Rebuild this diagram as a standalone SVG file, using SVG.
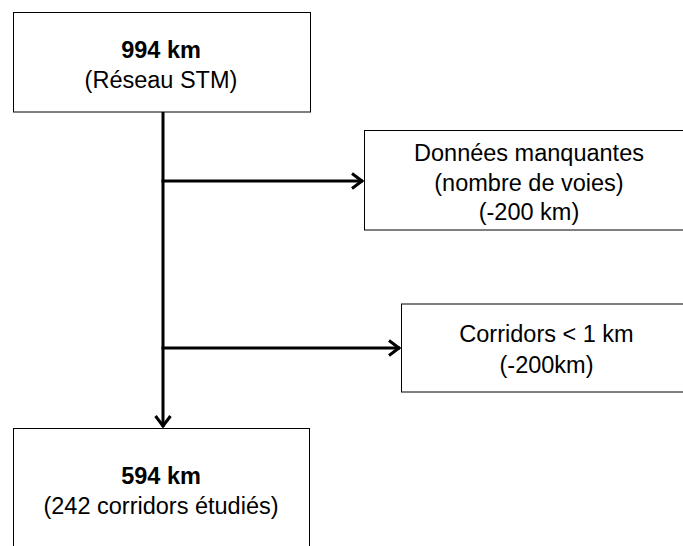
<svg xmlns="http://www.w3.org/2000/svg" width="683" height="546" viewBox="0 0 683 546">
<style>
.box{fill:#fff;stroke:#000;stroke-width:1}
.t{font-family:"Liberation Sans",Arial,sans-serif;font-size:23.5px;fill:#000;text-anchor:middle}
.b{font-weight:bold}
.c{fill:none;stroke:#000;stroke-width:3}
</style>
<defs>
<marker id="arr" markerUnits="userSpaceOnUse" viewBox="-16 -12 20 24" markerWidth="20" markerHeight="24" refX="0" refY="0" orient="auto" overflow="visible">
<path d="M-11,-7.5 L-1,0 L-11,7.5" fill="none" stroke="#000" stroke-width="3" stroke-linejoin="miter"/>
</marker>
</defs>
<rect width="683" height="546" fill="#fff"/>
<g id="connectors">
<path class="c" d="M163,112 V427" marker-end="url(#arr)"/>
<path class="c" d="M161.5,181 H363" marker-end="url(#arr)"/>
<path class="c" d="M161.5,348 H400" marker-end="url(#arr)"/>
</g>
<g id="n-reseau">
<rect class="box" x="13.5" y="12.5" width="297" height="99.5"/>
<text class="t b" x="161" y="58">994 km</text>
<text class="t" x="161" y="88">(Réseau STM)</text>
</g>
<g id="n-donnees">
<rect class="box" x="364.5" y="130.5" width="340" height="99.5"/>
<text class="t" x="529" y="160.5">Données manquantes</text>
<text class="t" x="529" y="190.5">(nombre de voies)</text>
<text class="t" x="529" y="220">(-200 km)</text>
</g>
<g id="n-corridors">
<rect class="box" x="401.5" y="304" width="300" height="88"/>
<text class="t" x="546.5" y="342">Corridors &lt; 1 km</text>
<text class="t" x="546.5" y="373">(-200km)</text>
</g>
<g id="n-resultat">
<rect class="box" x="13.5" y="428.5" width="296" height="140"/>
<text class="t b" x="161" y="484">594 km</text>
<text class="t" x="161" y="514">(242 corridors étudiés)</text>
</g>
</svg>
